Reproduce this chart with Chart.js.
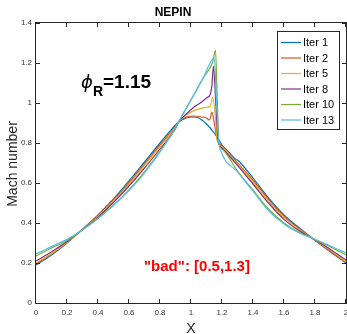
<!DOCTYPE html>
<html>
<head>
<meta charset="utf-8">
<script src="https://cdn.jsdelivr.net/npm/chart.js@4/dist/chart.umd.min.js"></script>
<style>
  html, body { margin: 0; padding: 0; background: #fff; }
</style>
</head>
<body>
<canvas id="chart" width="347" height="334"></canvas>
<script>
const xTickLabels = ["0", "0.2", "0.4", "0.6", "0.8", "1", "1.2", "1.4", "1.6", "1.8", "2"];
const yTickLabels = ["0", "0.2", "0.4", "0.6", "0.8", "1", "1.2", "1.4"];
const seriesNames = ["Iter 1", "Iter 2", "Iter 5", "Iter 8", "Iter 10", "Iter 13"];
const seriesColors = ["#0072BD", "#D95319", "#EDB120", "#7E2F8E", "#77AC30", "#4DBEEE"];

// values
const iter1X = [0, 0.1, 0.2, 0.28, 0.4, 0.5, 0.6, 0.7, 0.8, 0.9, 0.92, 0.97, 1.01, 1.05, 1.1, 1.15, 1.18, 1.2, 1.25, 1.29, 1.3, 1.32, 1.4, 1.5, 1.6, 1.7, 1.78, 1.9, 2.0];
const iter1Y = [0.19, 0.24, 0.3, 0.355, 0.44, 0.52, 0.61, 0.705, 0.8, 0.89, 0.905, 0.925, 0.93, 0.925, 0.895, 0.85, 0.815, 0.79, 0.75, 0.718, 0.715, 0.7, 0.625, 0.525, 0.44, 0.375, 0.325, 0.255, 0.2];

const iter2X = [0, 0.1, 0.2, 0.28, 0.4, 0.5, 0.6, 0.7, 0.8, 0.9, 0.92, 0.97, 1.02, 1.07, 1.1, 1.12, 1.135, 1.15, 1.17, 1.2, 1.3, 1.4, 1.5, 1.6, 1.7, 1.78, 1.9, 2.0];
const iter2Y = [0.195, 0.245, 0.302, 0.355, 0.437, 0.515, 0.602, 0.695, 0.79, 0.883, 0.905, 0.93, 0.935, 0.93, 0.925, 0.915, 0.955, 0.9, 0.815, 0.785, 0.7, 0.615, 0.518, 0.433, 0.37, 0.325, 0.258, 0.202];

const iter5X = [0, 0.1, 0.2, 0.28, 0.4, 0.5, 0.6, 0.7, 0.8, 0.9, 0.92, 0.97, 1.02, 1.06, 1.1, 1.125, 1.14, 1.155, 1.17, 1.2, 1.3, 1.4, 1.5, 1.6, 1.7, 1.78, 1.9, 2.0];
const iter5Y = [0.2, 0.248, 0.304, 0.355, 0.433, 0.51, 0.595, 0.688, 0.782, 0.878, 0.905, 0.94, 0.962, 0.972, 0.978, 0.985, 1.03, 0.95, 0.815, 0.78, 0.695, 0.605, 0.51, 0.427, 0.365, 0.325, 0.262, 0.207];

const iter8X = [0, 0.1, 0.2, 0.28, 0.4, 0.5, 0.6, 0.7, 0.8, 0.9, 0.92, 0.97, 1.02, 1.06, 1.1, 1.125, 1.135, 1.145, 1.16, 1.175, 1.2, 1.3, 1.4, 1.5, 1.6, 1.7, 1.78, 1.9, 2.0];
const iter8Y = [0.21, 0.256, 0.308, 0.355, 0.428, 0.503, 0.585, 0.675, 0.77, 0.872, 0.905, 0.945, 0.98, 1.0, 1.025, 1.045, 1.09, 1.185, 1.0, 0.815, 0.775, 0.688, 0.595, 0.5, 0.418, 0.36, 0.325, 0.268, 0.215];

const iter10X = [0, 0.1, 0.2, 0.28, 0.4, 0.5, 0.6, 0.7, 0.8, 0.9, 0.92, 1.0, 1.08, 1.14, 1.158, 1.17, 1.18, 1.2, 1.3, 1.4, 1.5, 1.6, 1.7, 1.78, 1.9, 2.0];
const iter10Y = [0.235, 0.275, 0.313, 0.355, 0.424, 0.49, 0.566, 0.655, 0.758, 0.875, 0.905, 1.015, 1.126, 1.205, 1.265, 1.0, 0.8, 0.77, 0.66, 0.565, 0.47, 0.4, 0.352, 0.325, 0.28, 0.24];

const iter13X = [0, 0.1, 0.2, 0.28, 0.4, 0.5, 0.6, 0.66, 0.7, 0.8, 0.9, 0.92, 1.0, 1.08, 1.15, 1.165, 1.18, 1.19, 1.3, 1.4, 1.49, 1.6, 1.7, 1.78, 1.9, 2.0];
const iter13Y = [0.245, 0.282, 0.318, 0.355, 0.422, 0.488, 0.562, 0.613, 0.65, 0.755, 0.875, 0.905, 1.016, 1.128, 1.225, 1.0, 0.8, 0.765, 0.655, 0.56, 0.47, 0.395, 0.35, 0.325, 0.285, 0.25];

const seriesX = [iter1X, iter2X, iter5X, iter8X, iter10X, iter13X];
const seriesY = [iter1Y, iter2Y, iter5Y, iter8Y, iter10Y, iter13Y];

const FONT = "'Liberation Sans', Arial, sans-serif";
const AXIS = "#262626";

const datasets = seriesNames.map((name, i) => ({
  label: name,
  data: seriesX[i].map((x, k) => ({ x, y: seriesY[i][k] })),
  borderColor: seriesColors[i],
  borderWidth: 1.2,
  pointRadius: 0,
  fill: false,
  cubicInterpolationMode: "monotone",
  order: seriesNames.length - i, // later iterations drawn on top
}));

// box, inward ticks, legend, axis titles and notes
const decorations = {
  id: "decorations",
  afterDraw(chart) {
    const { ctx, chartArea: a, scales } = chart;
    const xs = scales.x, ys = scales.y;
    ctx.save();
    ctx.strokeStyle = AXIS;
    ctx.lineWidth = 1;
    ctx.strokeRect(a.left - 0.5, a.top - 0.5, a.right - a.left + 1, a.bottom - a.top + 1);

    const tl = 4;
    ctx.beginPath();
    xs.ticks.forEach((t) => {
      const p = Math.round(xs.getPixelForValue(t.value)) - 0.5;
      ctx.moveTo(p, a.bottom); ctx.lineTo(p, a.bottom - tl);
      ctx.moveTo(p, a.top); ctx.lineTo(p, a.top + tl);
    });
    ys.ticks.forEach((t) => {
      const p = Math.round(ys.getPixelForValue(t.value)) + 0.5;
      ctx.moveTo(a.left, p); ctx.lineTo(a.left + tl, p);
      ctx.moveTo(a.right, p); ctx.lineTo(a.right - tl, p);
    });
    ctx.stroke();

    // legend
    const lx = 277.5, ly = 31.5, lw = 62, lh = 98;
    ctx.fillStyle = "#fff";
    ctx.fillRect(lx, ly, lw, lh);
    ctx.strokeStyle = AXIS;
    ctx.strokeRect(lx, ly, lw, lh);
    ctx.font = "11px " + FONT;
    ctx.textBaseline = "middle";
    ctx.textAlign = "left";
    seriesNames.forEach((name, i) => {
      const yy = 42.5 + i * 15.5;
      ctx.strokeStyle = seriesColors[i];
      ctx.lineWidth = 1.2;
      ctx.beginPath();
      ctx.moveTo(281, yy); ctx.lineTo(301, yy);
      ctx.stroke();
      ctx.fillStyle = "#000";
      ctx.fillText(name, 303, yy + 0.5);
    });

    // axis titles
    ctx.fillStyle = AXIS;
    ctx.font = "14px " + FONT;
    ctx.textAlign = "center";
    ctx.textBaseline = "alphabetic";
    ctx.fillText("X", (a.left + a.right) / 2, 333);
    ctx.save();
    ctx.translate(17, 164);
    ctx.rotate(-Math.PI / 2);
    ctx.fillText("Mach number", 0, 0);
    ctx.restore();

    // phi_R note
    ctx.fillStyle = "#000";
    ctx.textAlign = "left";
    ctx.font = "italic 18px 'DejaVu Sans', sans-serif";
    ctx.fillText("\u03D5", 81, 88);
    ctx.font = "bold 14px " + FONT;
    ctx.fillText("R", 93, 96);
    ctx.font = "bold 19px " + FONT;
    ctx.fillText("=1.15", 103, 88);

    // red note
    ctx.fillStyle = "#ff0000";
    ctx.font = "bold 15px " + FONT;
    ctx.fillText("\"bad\": [0.5,1.3]", 144, 271);
    ctx.restore();
  },
};

new Chart(document.getElementById("chart"), {
  type: "line",
  data: { datasets },
  options: {
    responsive: false,
    animation: false,
    devicePixelRatio: 1,
    layout: { padding: { left: 0, right: 1, top: 0, bottom: 0 } },
    plugins: {
      legend: { display: false },
      tooltip: { enabled: false },
      title: {
        display: true,
        text: "NEPIN",
        color: "#000",
        font: { family: FONT, size: 12, weight: "bold", lineHeight: 1.2 },
        padding: { top: 5, bottom: 3.6 },
      },
    },
    scales: {
      x: {
        type: "linear",
        min: 0,
        max: 2,
        grid: { display: false, drawTicks: false },
        border: { display: false },
        ticks: {
          stepSize: 0.2,
          autoSkip: false,
          maxRotation: 0,
          padding: 5,
          color: "#333",
          font: { family: FONT, size: 8 },
          callback: (v) => xTickLabels[Math.round(v / 0.2)],
        },
        afterFit: (s) => { s.height = 31; s.paddingLeft = 0; s.paddingRight = 0; },
      },
      y: {
        type: "linear",
        min: 0,
        max: 1.4,
        grid: { display: false, drawTicks: false },
        border: { display: false },
        ticks: {
          stepSize: 0.2,
          padding: 4,
          color: "#333",
          font: { family: FONT, size: 8 },
          callback: (v) => yTickLabels[Math.round(v / 0.2)],
        },
        afterFit: (s) => { s.width = 36; s.paddingTop = 0; s.paddingBottom = 0; },
      },
    },
  },
  plugins: [decorations],
});
</script>
</body>
</html>
